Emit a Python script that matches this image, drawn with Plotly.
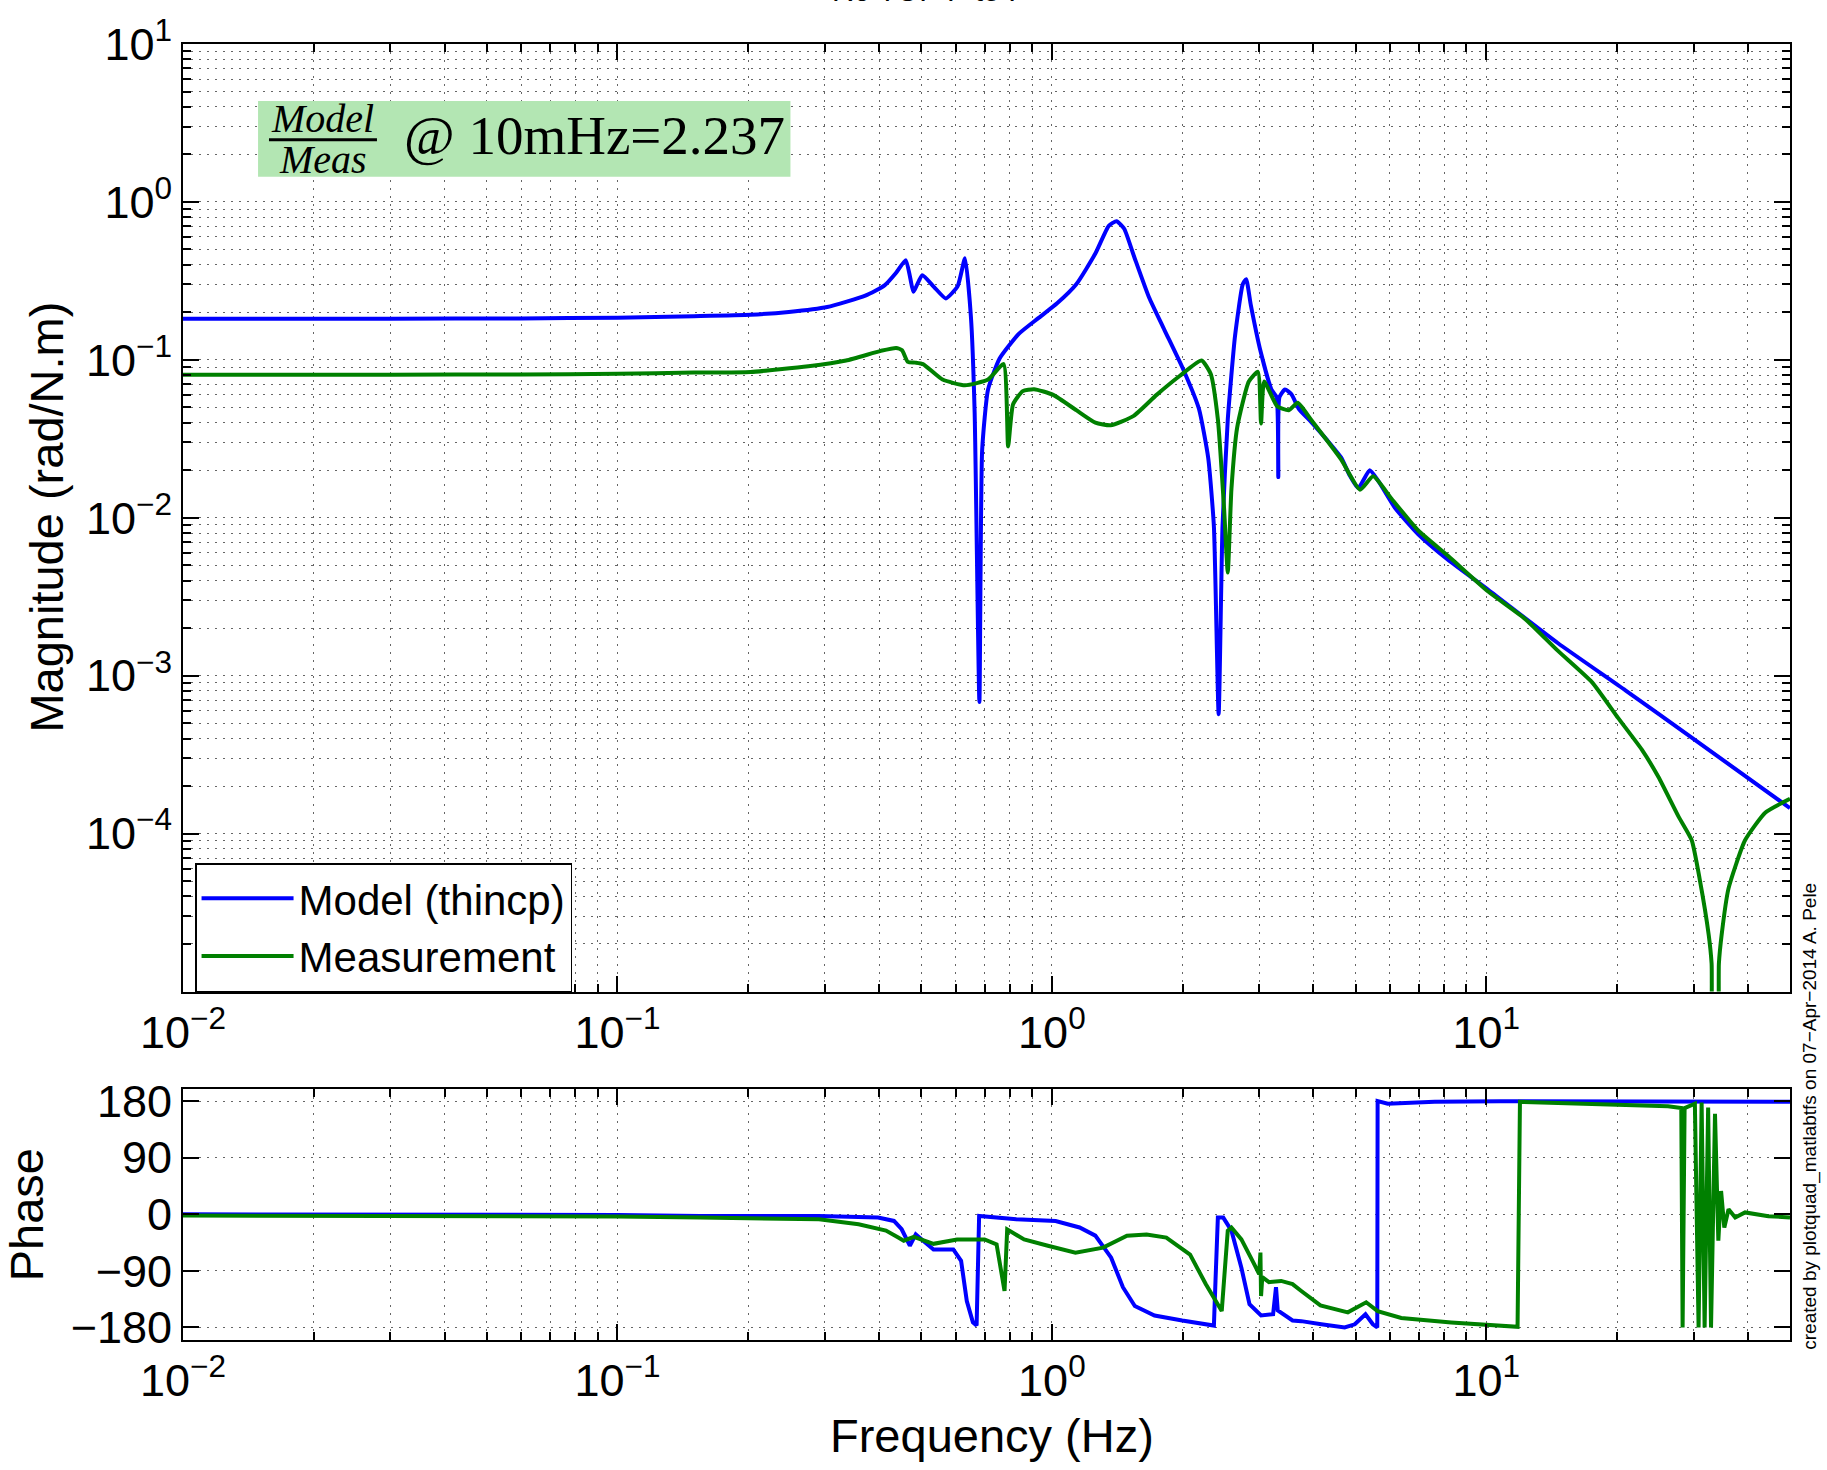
import plotly.graph_objects as go

# ---------------- data ----------------
model_mag_f = [0.01, 0.03, 0.06, 0.1, 0.15, 0.2025, 0.248, 0.304, 0.372, 0.412, 0.438, 0.461,
               0.472, 0.480, 0.503, 0.535, 0.570, 0.607, 0.631, 0.651, 0.664, 0.681, 0.691,
               0.713, 0.758, 0.839, 0.929, 1.028, 1.138, 1.259, 1.352, 1.409, 1.467, 1.543,
               1.674, 1.815, 2.01, 2.18, 2.29, 2.36, 2.42, 2.47, 2.54, 2.64, 2.75, 2.80, 2.87,
               3.02, 3.20, 3.29, 3.32, 3.34, 3.44, 3.56, 3.70, 3.95, 4.3, 4.63, 4.85, 5.07,
               5.39, 5.64, 6.16, 6.97, 8.17, 10.1, 14.6, 20.9, 29.7, 50.0]
model_mag = [0.182, 0.182, 0.183, 0.185, 0.189, 0.193, 0.201, 0.216, 0.255, 0.296, 0.356, 0.428,
             0.33, 0.270, 0.343, 0.29, 0.245, 0.293, 0.440, 0.188, 0.0467, 0.00068, 0.0268,
             0.065, 0.102, 0.146, 0.183, 0.228, 0.301, 0.471, 0.706, 0.755, 0.676, 0.458,
             0.248, 0.155, 0.086, 0.049, 0.0239, 0.0088, 0.00057, 0.0088, 0.0418, 0.142, 0.301,
             0.324, 0.222, 0.114, 0.065, 0.058, 0.0181, 0.058, 0.065, 0.0605, 0.049, 0.0405,
             0.031, 0.0241, 0.0185, 0.0154, 0.020, 0.0171, 0.01155, 0.00785, 0.0054, 0.0035,
             0.00161, 0.000808, 0.000405, 0.000145]

meas_mag_f = [0.01, 0.03, 0.06, 0.1, 0.15, 0.2025, 0.275, 0.336, 0.404, 0.438, 0.452, 0.466,
              0.485, 0.505, 0.56, 0.631, 0.713, 0.774, 0.793, 0.814, 0.857, 0.910, 1.007,
              1.138, 1.259, 1.365, 1.543, 1.742, 1.968, 2.21, 2.32, 2.41, 2.49, 2.54, 2.59,
              2.67, 2.84, 2.98, 3.03, 3.08, 3.30, 3.51, 3.68, 3.95, 4.63, 5.12, 5.49, 6.05,
              6.97, 8.17, 10.1, 12.3, 14.6, 17.5, 20.1, 22.8, 24.9, 27.7, 29.7, 31.0, 32.5,
              33.0, 33.3, 34.0, 34.3, 34.8, 36.1, 39.4, 43.9, 50.0]
meas_mag = [0.0805, 0.0805, 0.0808, 0.0815, 0.083, 0.0838, 0.091, 0.099, 0.114, 0.119, 0.115,
            0.097, 0.096, 0.094, 0.075, 0.069, 0.075, 0.094, 0.0283, 0.0523, 0.0634, 0.0652,
            0.060, 0.048, 0.040, 0.0385, 0.0442, 0.060, 0.079, 0.099, 0.0815, 0.042, 0.0116,
            0.0045, 0.0153, 0.0374, 0.073, 0.084, 0.0395, 0.073, 0.0508, 0.048, 0.0534,
            0.0417, 0.0234, 0.01505, 0.0183, 0.0132, 0.0083, 0.00572, 0.00341, 0.00228,
            0.00144, 0.00091, 0.00054, 0.00034, 0.000228, 0.000128, 0.0000907, 0.000051,
            0.0000228, 0.000015, 0.000005, 0.000005, 0.000015, 0.0000228, 0.000045,
            0.0000907, 0.000136, 0.000166]

model_ph_f = [0.01, 0.05, 0.1, 0.155, 0.291, 0.398, 0.433, 0.451, 0.471, 0.486, 0.507, 0.534,
              0.593, 0.618, 0.637, 0.658, 0.671, 0.680, 0.828, 1.02, 1.158, 1.259, 1.369,
              1.457, 1.552, 1.723, 1.995, 2.36, 2.38, 2.41, 2.48, 2.59, 2.73, 2.85, 3.03,
              3.23, 3.28, 3.31, 3.58, 3.75, 4.17, 4.72, 4.98, 5.27, 5.48, 5.61, 5.62, 5.93,
              7.60, 10.8, 50.0]
model_ph = [0, -0.5, -1.2, -2.6, -2.6, -5.3, -10.6, -23.8, -50, -32, -42, -56, -56, -74, -138,
            -172, -177, -2.6, -8, -10.6, -21, -34, -69, -116, -146, -161, -169, -177, -106,
            -5.3, -5.3, -26, -85, -143, -161, -159, -116, -153, -169, -170, -175, -180, -175,
            -159, -175, -180, 180, 176, 179, 180, 179]

meas_ph_f = [0.01, 0.05, 0.1, 0.155, 0.291, 0.359, 0.415, 0.443, 0.456, 0.481, 0.534, 0.605,
             0.700, 0.746, 0.778, 0.789, 0.863, 0.979, 1.133, 1.312, 1.489, 1.652, 1.834, 2.08,
             2.26, 2.46, 2.54, 2.59, 2.73, 2.91, 3.00, 3.02, 3.03, 3.05, 3.16, 3.37, 3.58,
             3.75, 4.15, 4.80, 5.29, 5.62, 6.37, 8.30, 11.8, 11.95, 18.4, 26.2, 28.1, 28.3,
             28.6, 30.2, 30.8, 31.3, 31.8, 32.4, 32.9, 33.6, 34.2, 34.7, 35.3, 36.1, 37.4,
             39.4, 44.6, 50.0]
meas_ph = [-2, -2.5, -3.5, -5.3, -8, -16, -26, -37, -42, -36, -47, -40, -40, -48, -122, -24,
           -40, -50, -61, -53, -34, -32, -37, -64, -111, -154, -26, -21, -40, -77, -95, -61,
           -130, -100, -108, -106, -111, -122, -145, -156, -140, -154, -165, -172, -179, 179,
           176, 172, 169, -180, 169, 176, -180, 178, -180, 170, -180, 160, -42, 37, -21, 8,
           -5, 3, -3, -5]

series_names = ["Model (thincp)", "Measurement"]
x_tickvals = [0.01, 0.1, 1, 10]
x_ticktext = ["10<sup>−2</sup>", "10<sup>−1</sup>", "10<sup>0</sup>", "10<sup>1</sup>"]
mag_tickvals = [1e-4, 1e-3, 1e-2, 1e-1, 1, 10]
mag_ticktext = ["10<sup>−4</sup>", "10<sup>−3</sup>", "10<sup>−2</sup>", "10<sup>−1</sup>",
                "10<sup>0</sup>", "10<sup>1</sup>"]
ph_tickvals = [-180, -90, 0, 90, 180]
ph_ticktext = ["−180", "−90", "0", "90", "180"]

# ---------------- figure ----------------
BLUE = "rgb(0,0,255)"
GREEN = "rgb(0,128,0)"
FONT = "Liberation Sans"
GRID = "rgba(0,0,0,0.6)"
DASH = "2px,6px"

x_minor = [k * 10.0 ** n for n in range(-2, 2) for k in range(2, 10) if k * 10.0 ** n <= 50]
y_minor = [k * 10.0 ** n for n in range(-5, 1) for k in range(2, 10)]

fig = go.Figure()
fig.add_trace(go.Scatter(x=model_mag_f, y=model_mag, mode="lines", name=series_names[0],
                         line=dict(color=BLUE, width=4, shape="spline", smoothing=0.5),
                         xaxis="x", yaxis="y"))
fig.add_trace(go.Scatter(x=meas_mag_f, y=meas_mag, mode="lines", name=series_names[1],
                         line=dict(color=GREEN, width=4, shape="spline", smoothing=0.5),
                         xaxis="x", yaxis="y"))
fig.add_trace(go.Scatter(x=model_ph_f, y=model_ph, mode="lines", showlegend=False,
                         line=dict(color=BLUE, width=4), xaxis="x2", yaxis="y2"))
fig.add_trace(go.Scatter(x=meas_ph_f, y=meas_ph, mode="lines", showlegend=False,
                         line=dict(color=GREEN, width=4), xaxis="x2", yaxis="y2"))

common_axis = dict(showline=True, linecolor="black", linewidth=2, mirror="allticks",
                   ticks="inside", ticklen=16, tickwidth=1.5, tickcolor="black",
                   showgrid=True, gridcolor=GRID, gridwidth=1, griddash=DASH,
                   zeroline=False, tickfont=dict(family=FONT, size=45, color="black"))

xaxis_cfg = dict(common_axis, type="log", range=[-2, 1.69897], tickmode="array",
                 tickvals=x_tickvals, ticktext=x_ticktext,
                 minor=dict(tickmode="array", tickvals=x_minor, ticks="inside", ticklen=8,
                            tickcolor="black", showgrid=True, gridcolor=GRID, griddash=DASH))

fig.update_layout(
    width=1827, height=1470,
    margin=dict(l=183, r=37, t=41, b=130),
    paper_bgcolor="white", plot_bgcolor="white",
    font=dict(family=FONT, color="black"),
    xaxis=dict(xaxis_cfg, anchor="y", domain=[0, 1]),
    yaxis=dict(common_axis, type="log", range=[-5, 1], domain=[0.2689, 1], anchor="x",
               tickmode="array", tickvals=mag_tickvals, ticktext=mag_ticktext,
               minor=dict(tickmode="array", tickvals=y_minor, ticks="inside", ticklen=8,
                          tickcolor="black", showgrid=True, gridcolor=GRID, griddash=DASH)),
    xaxis2=dict(xaxis_cfg, anchor="y2", domain=[0, 1]),
    yaxis2=dict(common_axis, range=[-200, 200], domain=[0, 0.194], anchor="x2",
                tickmode="array", tickvals=ph_tickvals, ticktext=ph_ticktext),
    showlegend=True,
    legend=dict(x=0.0075, y=0.368, xanchor="left", yanchor="top",
                bgcolor="white", bordercolor="black", borderwidth=1.5,
                font=dict(family=FONT, size=42, color="black"), itemwidth=92,
                tracegroupgap=0),
)

# green annotation box with the ratio
fig.add_shape(type="rect", xref="paper", yref="paper", x0=0.0467, x1=0.378, y0=0.8976,
              y1=0.956, fillcolor="#b3e6b3", line=dict(width=0), layer="above")
fig.add_shape(type="line", xref="paper", yref="paper", x0=0.0535, x1=0.1207, y0=0.9261,
              y1=0.9261, line=dict(color="black", width=3), layer="above")
fig.add_annotation(text="<i>Model</i>", xref="paper", yref="paper", x=0.0871, y=0.9425,
                   xanchor="center", yanchor="middle", showarrow=False,
                   font=dict(family="Liberation Serif", size=40, color="black"))
fig.add_annotation(text="<i>Meas</i>", xref="paper", yref="paper", x=0.0871, y=0.9110,
                   xanchor="center", yanchor="middle", showarrow=False,
                   font=dict(family="Liberation Serif", size=40, color="black"))
fig.add_annotation(text="@ 10mHz=2.237", xref="paper", yref="paper", x=0.1363, y=0.9297,
                   xanchor="left", yanchor="middle", showarrow=False,
                   font=dict(family="Liberation Serif", size=55, color="black"))

# title (clipped at the top of the page in the reference)
fig.add_annotation(text="R0 TOP P to P", xref="paper", yref="paper", x=0.4648, y=1.0415,
                   xanchor="center", yanchor="middle", showarrow=False,
                   font=dict(family=FONT, size=30, color="black"))

# axis titles
fig.add_annotation(text="Magnitude (rad/N.m)", xref="paper", yref="paper", x=-0.0846,
                   y=0.6346, textangle=-90, xanchor="center", yanchor="middle",
                   showarrow=False, font=dict(family=FONT, size=47, color="black"))
fig.add_annotation(text="Phase", xref="paper", yref="paper", x=-0.0977, y=0.097,
                   textangle=-90, xanchor="center", yanchor="middle", showarrow=False,
                   font=dict(family=FONT, size=47, color="black"))
fig.add_annotation(text="Frequency (Hz)", xref="paper", yref="paper", x=0.5034, y=-0.0739,
                   xanchor="center", yanchor="middle", showarrow=False,
                   font=dict(family=FONT, size=47, color="black"))

# side credit
fig.add_annotation(text="created by plotquad_matlabtfs on 07−Apr−2014 A. Pele", xref="paper",
                   yref="paper", x=1.0124, y=0.173, textangle=-90, xanchor="center",
                   yanchor="middle", showarrow=False,
                   font=dict(family=FONT, size=19, color="black"))

fig.write_html("out.html", config={"displayModeBar": False},
               post_script="document.body.style.margin='0px';")
